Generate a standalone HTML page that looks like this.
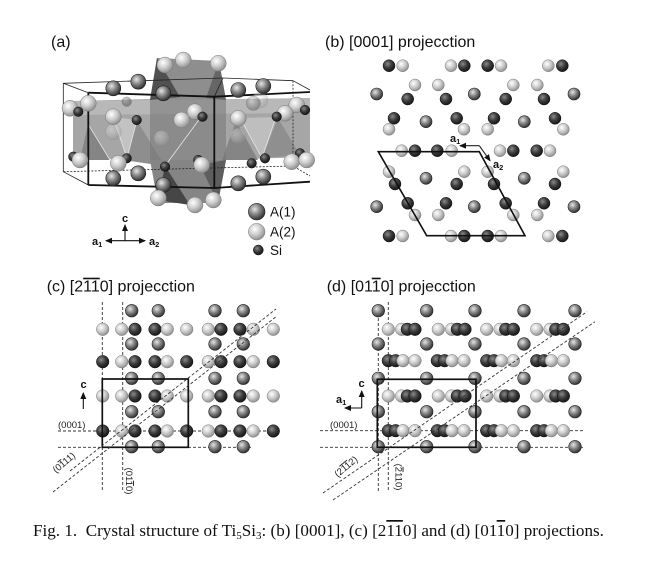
<!DOCTYPE html>
<html><head><meta charset="utf-8"><style>
html,body{margin:0;padding:0;background:#fff}
svg{display:block}
.A{fill:url(#gA);stroke:#222;stroke-width:.6}
.B{fill:url(#gB);stroke:#7a7a7a;stroke-width:.5}
.S{fill:url(#gS);stroke:#111;stroke-width:.5}
.t{font-family:"Liberation Sans",sans-serif;font-size:16px;fill:#111}
.s{font-family:"Liberation Sans",sans-serif;font-size:9.5px;fill:#222}
.bl{font-family:"Liberation Sans",sans-serif;font-size:11px;font-weight:bold;fill:#111}
.ol{text-decoration:overline}
.d{fill:none;stroke:#333;stroke-width:.9;stroke-dasharray:3 2}
</style></head><body>
<svg width="650" height="562" viewBox="0 0 650 562" xmlns="http://www.w3.org/2000/svg">
<defs>
<radialGradient id="gA" cx="0.38" cy="0.35" r="0.68"><stop offset="0" stop-color="#e6e6e6"/><stop offset="0.45" stop-color="#8a8a8a"/><stop offset="1" stop-color="#2c2c2c"/></radialGradient>
<radialGradient id="gB" cx="0.38" cy="0.35" r="0.68"><stop offset="0" stop-color="#ffffff"/><stop offset="0.5" stop-color="#cdcdcd"/><stop offset="1" stop-color="#8c8c8c"/></radialGradient>
<radialGradient id="gS" cx="0.38" cy="0.35" r="0.68"><stop offset="0" stop-color="#8a8a8a"/><stop offset="0.5" stop-color="#3c3c3c"/><stop offset="1" stop-color="#141414"/></radialGradient>
<marker id="ar" markerWidth="7" markerHeight="6" refX="6" refY="3" orient="auto" markerUnits="userSpaceOnUse"><path d="M0,0 L7,3 L0,6 z" fill="#111"/></marker>
</defs>
<rect width="650" height="562" fill="#fff"/>

<!-- ===== (a) ===== -->
<text class="t" x="51" y="47">(a)</text>
<polygon points="73,101 150,99 215,101 310,98 310,157 215,160 150,160 73,158" fill="#a6a6a6"/>
<polygon points="73,101 310,98 310,113 73,115" fill="#b8b8b8"/>
<polygon points="88,124 110,160 80,160" fill="#858585"/>
<polygon points="137,121 165,166 123,160" fill="#8e8e8e"/>
<polygon points="236,121 258,160 222,160" fill="#858585"/>
<polygon points="278,118 300,155 262,158" fill="#8f8f8f"/>
<polygon points="113,117 137,120 127,158" fill="#c2c2c2"/>
<polygon points="240,118 276,117 262,158" fill="#bebebe"/>
<polygon points="157,58 219,61 226,100 150,100" fill="#8e8e8e"/>
<polygon points="157,58 180,97 150,100" fill="#505050"/>
<polygon points="219,61 226,100 206,98" fill="#666"/>
<rect x="150" y="100" width="76" height="60" fill="#747474" opacity=".55"/>
<polygon points="150,160 226,160 218,203 158,203" fill="#858585"/>
<polygon points="165,166 190,205 158,200" fill="#464646"/>
<polygon points="200,165 226,160 218,203" fill="#5e5e5e"/>
<g stroke="#e6e6e6" stroke-width=".8" fill="none">
<polyline points="113,117 127,158 137,120"/>
<polyline points="165,166 201,117"/>
<polyline points="240,118 262,158 276,117"/>
<polyline points="88,124 110,160"/>
</g>
<g fill="none" stroke="#222">
<g stroke-width=".8">
<line x1="63.3" y1="83.3" x2="63.3" y2="171.7"/>
<line x1="63.3" y1="83.3" x2="88.3" y2="92.7"/>
<line x1="63.3" y1="171.7" x2="88.3" y2="185"/>
<line x1="63.3" y1="83.3" x2="223" y2="78"/>
<line x1="214.3" y1="96.7" x2="223" y2="78"/>
<line x1="293" y1="80.7" x2="310" y2="90"/>
<line x1="223" y1="78" x2="293" y2="80.7"/>
</g>
<polyline points="63.3,171.7 293,166 310,176" stroke-width=".8" stroke-dasharray="2 1.5"/>
<line x1="293" y1="80.7" x2="293" y2="166" stroke-width=".8" stroke-dasharray="2 1.5"/>
<g stroke-width="1.8" stroke="#111">
<polyline points="88.3,92.7 214.3,96.7 310,92"/>
<polyline points="88.3,185 214.3,188 310,181.7"/>
<line x1="88.3" y1="92.7" x2="88.3" y2="185"/>
<line x1="214.3" y1="96.7" x2="214.3" y2="188"/>
</g>
</g>
<g opacity=".35">
<circle class="B" cx="113.3" cy="131.7" r="8"/><circle class="B" cx="161.7" cy="138.3" r="8"/>
<circle class="B" cx="260" cy="100" r="8"/><circle class="B" cx="238" cy="136" r="8"/>
<circle class="S" cx="126.7" cy="101.7" r="4.8"/><circle class="A" cx="253.3" cy="103.3" r="7"/>
</g>
<g>
<circle class="B" cx="165" cy="65" r="8"/><circle class="B" cx="183.3" cy="60" r="8"/><circle class="B" cx="218.3" cy="63.3" r="8"/>
<circle class="A" cx="113.3" cy="88.3" r="7.5"/><circle class="A" cx="138.3" cy="81.7" r="7.5"/><circle class="A" cx="163.3" cy="93.3" r="7.5"/>
<circle class="A" cx="238.3" cy="90" r="7.5"/><circle class="A" cx="263.3" cy="86" r="7.5"/>
<circle class="B" cx="70" cy="108.3" r="8"/><circle class="B" cx="88.3" cy="103.3" r="8"/>
<circle class="S" cx="78.3" cy="111.7" r="4.8"/>
<circle class="B" cx="113.3" cy="116.7" r="8"/>
<circle class="S" cx="136.7" cy="120" r="4.8"/>
<circle class="B" cx="195" cy="111.7" r="8"/><circle class="B" cx="181.7" cy="120" r="8"/>
<circle class="S" cx="202.5" cy="116.7" r="4.8"/>
<circle class="B" cx="238.3" cy="118.3" r="8"/>
<circle class="B" cx="296.7" cy="105" r="8"/><circle class="B" cx="285" cy="113.3" r="8"/>
<circle class="S" cx="276.7" cy="116.7" r="4.8"/><circle class="S" cx="305" cy="110" r="4.8"/>
<circle class="S" cx="73.3" cy="156.7" r="4.8"/>
<circle class="B" cx="80" cy="160" r="8"/>
<circle class="S" cx="126.7" cy="158.3" r="4.8"/>
<circle class="B" cx="118.3" cy="163.3" r="8"/>
<circle class="S" cx="198.3" cy="160" r="4.8"/>
<circle class="B" cx="201.7" cy="165" r="8"/>
<circle class="S" cx="165" cy="166.7" r="4.8"/>
<circle class="S" cx="251.7" cy="163.3" r="4.8"/><circle class="S" cx="265" cy="158.3" r="4.8"/>
<circle class="S" cx="300" cy="153.3" r="4.8"/>
<circle class="B" cx="291.7" cy="161.7" r="8"/><circle class="B" cx="306.7" cy="160" r="8"/>
<circle class="A" cx="138.3" cy="173.3" r="7.5"/><circle class="A" cx="113.3" cy="178.3" r="7.5"/><circle class="A" cx="163.3" cy="185" r="7.5"/>
<circle class="A" cx="263.3" cy="176.7" r="7.5"/><circle class="A" cx="238.3" cy="183.3" r="7.5"/>
<circle class="B" cx="158.3" cy="198" r="8"/><circle class="B" cx="213.3" cy="200" r="8"/><circle class="B" cx="195" cy="205" r="8"/>
</g>
<circle class="A" cx="256.7" cy="211.7" r="8.3"/>
<circle class="B" cx="256.7" cy="231.7" r="8.3"/>
<circle class="S" cx="258.3" cy="250" r="5"/>
<g font-family="Liberation Sans, sans-serif" font-size="13.5" fill="#111">
<text x="270" y="216.5">A(1)</text><text x="270" y="236.5">A(2)</text><text x="270" y="255">Si</text>
</g>
<g stroke="#111" stroke-width="1.1">
<line x1="125" y1="240.7" x2="125" y2="225" marker-end="url(#ar)"/>
<line x1="125" y1="240.7" x2="106" y2="240.7" marker-end="url(#ar)"/>
<line x1="125" y1="240.7" x2="145" y2="240.7" marker-end="url(#ar)"/>
</g>
<text class="bl" x="122" y="222">c</text>
<text class="bl" x="92" y="245">a<tspan font-size="7.5" dy="2">1</tspan></text>
<text class="bl" x="149" y="245">a<tspan font-size="7.5" dy="2">2</tspan></text>

<!-- ===== (b) ===== -->
<text class="t" x="325" y="47">(b) [0001] projecction</text>
<g>
<circle class="S" cx="389" cy="65.7" r="6"/><circle class="B" cx="402.7" cy="65.7" r="6"/><circle class="B" cx="451" cy="65.7" r="6"/><circle class="S" cx="464.3" cy="65.7" r="6"/><circle class="S" cx="487.7" cy="65.7" r="6"/><circle class="B" cx="501" cy="65.7" r="6"/><circle class="B" cx="548.3" cy="65.7" r="6"/><circle class="S" cx="562.3" cy="65.7" r="6"/>
<circle class="B" cx="415" cy="85" r="6"/><circle class="B" cx="438.3" cy="85" r="6"/><circle class="B" cx="513.3" cy="85" r="6"/><circle class="B" cx="537.3" cy="85" r="6"/>
<circle class="A" cx="376.7" cy="94" r="6"/><circle class="A" cx="474.3" cy="94" r="6"/><circle class="A" cx="574" cy="94" r="6"/>
<circle class="S" cx="407.7" cy="99" r="6"/><circle class="S" cx="446" cy="99" r="6"/><circle class="S" cx="505.7" cy="99" r="6"/><circle class="S" cx="544" cy="99" r="6"/>
<circle class="S" cx="394" cy="118.3" r="6"/><circle class="S" cx="456.7" cy="118.3" r="6"/><circle class="S" cx="494" cy="118.3" r="6"/><circle class="S" cx="555" cy="118.3" r="6"/>
<circle class="A" cx="426" cy="121.7" r="6"/><circle class="A" cx="524.3" cy="121.7" r="6"/>
<circle class="B" cx="389" cy="129.3" r="6"/><circle class="B" cx="464" cy="129.3" r="6"/><circle class="B" cx="487.7" cy="129.3" r="6"/><circle class="B" cx="563.3" cy="129.3" r="6"/>
<circle class="B" cx="401.7" cy="150.7" r="6"/><circle class="S" cx="415" cy="150.7" r="6"/><circle class="S" cx="437.3" cy="150.7" r="6"/><circle class="B" cx="451.7" cy="150.7" r="6"/><circle class="B" cx="500" cy="150.7" r="6"/><circle class="S" cx="513.3" cy="150.7" r="6"/><circle class="S" cx="536.7" cy="150.7" r="6"/><circle class="B" cx="550" cy="150.7" r="6"/>
<circle class="B" cx="389" cy="171.7" r="6"/><circle class="B" cx="464.3" cy="171.7" r="6"/><circle class="B" cx="487.7" cy="171.7" r="6"/><circle class="B" cx="563.3" cy="171.7" r="6"/>
<circle class="A" cx="426" cy="178.3" r="6"/><circle class="A" cx="524.3" cy="178.3" r="6"/>
<circle class="S" cx="395" cy="184" r="6"/><circle class="S" cx="456.7" cy="184" r="6"/><circle class="S" cx="494" cy="184" r="6"/><circle class="S" cx="555" cy="184" r="6"/>
<circle class="S" cx="407.7" cy="203.3" r="6"/><circle class="S" cx="446" cy="203.3" r="6"/><circle class="S" cx="505.7" cy="203.3" r="6"/><circle class="S" cx="544" cy="203.3" r="6"/>
<circle class="A" cx="376.7" cy="206.7" r="6"/><circle class="A" cx="474.3" cy="206.7" r="6"/><circle class="A" cx="574" cy="206.7" r="6"/>
<circle class="B" cx="415" cy="215" r="6"/><circle class="B" cx="438.3" cy="215" r="6"/><circle class="B" cx="513.3" cy="215" r="6"/><circle class="B" cx="537.3" cy="215" r="6"/>
<circle class="S" cx="389" cy="236" r="6"/><circle class="B" cx="402.7" cy="236" r="6"/><circle class="B" cx="451" cy="236" r="6"/><circle class="S" cx="464.3" cy="236" r="6"/><circle class="S" cx="487.7" cy="236" r="6"/><circle class="B" cx="501" cy="236" r="6"/><circle class="B" cx="548.3" cy="236" r="6"/><circle class="S" cx="562.3" cy="236" r="6"/>
</g>
<polygon points="378.3,151.7 479.3,151.7 525,235.7 426.7,235.7" fill="none" stroke="#111" stroke-width="1.6"/>
<g stroke="#222" stroke-width="1.1">
<line x1="479.3" y1="145.7" x2="460" y2="145.7" marker-end="url(#ar)"/>
<line x1="479.3" y1="145.7" x2="490" y2="160.7" marker-end="url(#ar)"/>
</g>
<text class="bl" x="450" y="142">a<tspan font-size="7.5" dy="2">1</tspan></text>
<text class="bl" x="493" y="168">a<tspan font-size="7.5" dy="2">2</tspan></text>

<!-- ===== (c) ===== -->
<text class="t" x="46.7" y="291.7">(c) [2<tspan class="ol">1</tspan><tspan class="ol">1</tspan>0] projecction</text>
<g>
<line class="d" x1="102.3" y1="302" x2="102.3" y2="492"/>
<line class="d" x1="122.7" y1="302" x2="122.7" y2="492"/>
<line class="d" x1="58" y1="431" x2="278" y2="431"/>
<line class="d" x1="58" y1="447.3" x2="253" y2="447.3"/>
</g>
<g>
<circle class="A" cx="131.7" cy="310.7" r="6.3"/><circle class="A" cx="158.3" cy="310.7" r="6.3"/><circle class="A" cx="215" cy="310.7" r="6.3"/><circle class="A" cx="243.3" cy="310.7" r="6.3"/>
<circle class="A" cx="131.7" cy="344" r="6.3"/><circle class="A" cx="158.3" cy="344" r="6.3"/><circle class="A" cx="215" cy="344" r="6.3"/><circle class="A" cx="243.3" cy="344" r="6.3"/>
<circle class="A" cx="131.7" cy="378.3" r="6.3"/><circle class="A" cx="158.3" cy="378.3" r="6.3"/><circle class="A" cx="215" cy="378.3" r="6.3"/><circle class="A" cx="243.3" cy="378.3" r="6.3"/>
<circle class="A" cx="131.7" cy="411.7" r="6.3"/><circle class="A" cx="158.3" cy="411.7" r="6.3"/><circle class="A" cx="215" cy="411.7" r="6.3"/><circle class="A" cx="243.3" cy="411.7" r="6.3"/>
<circle class="A" cx="131.7" cy="446.7" r="6.3"/><circle class="A" cx="158.3" cy="446.7" r="6.3"/><circle class="A" cx="215" cy="446.7" r="6.3"/><circle class="A" cx="243.3" cy="446.7" r="6.3"/>

<circle class="B" cx="102.7" cy="329.3" r="6.3"/><circle class="B" cx="121.7" cy="329.3" r="6.3"/><circle class="S" cx="135" cy="329.3" r="6.3"/><circle class="S" cx="155" cy="329.3" r="6.3"/><circle class="B" cx="167.3" cy="329.3" r="6.3"/><circle class="B" cx="186.7" cy="329.3" r="6.3"/><circle class="B" cx="208.3" cy="329.3" r="6.3"/><circle class="S" cx="221" cy="329.3" r="6.3"/><circle class="S" cx="240" cy="329.3" r="6.3"/><circle class="B" cx="253.3" cy="329.3" r="6.3"/><circle class="B" cx="273.3" cy="329.3" r="6.3"/>
<circle class="S" cx="102.7" cy="361.7" r="6.3"/><circle class="B" cx="121.7" cy="361.7" r="6.3"/><circle class="S" cx="135" cy="361.7" r="6.3"/><circle class="S" cx="155" cy="361.7" r="6.3"/><circle class="B" cx="167.3" cy="361.7" r="6.3"/><circle class="S" cx="186.7" cy="361.7" r="6.3"/><circle class="B" cx="208.3" cy="361.7" r="6.3"/><circle class="S" cx="221" cy="361.7" r="6.3"/><circle class="S" cx="240" cy="361.7" r="6.3"/><circle class="B" cx="253.3" cy="361.7" r="6.3"/><circle class="S" cx="273.3" cy="361.7" r="6.3"/>
<circle class="B" cx="102.7" cy="396" r="6.3"/><circle class="B" cx="121.7" cy="396" r="6.3"/><circle class="S" cx="135" cy="396" r="6.3"/><circle class="S" cx="155" cy="396" r="6.3"/><circle class="B" cx="167.3" cy="396" r="6.3"/><circle class="B" cx="186.7" cy="396" r="6.3"/><circle class="B" cx="208.3" cy="396" r="6.3"/><circle class="S" cx="221" cy="396" r="6.3"/><circle class="S" cx="240" cy="396" r="6.3"/><circle class="B" cx="253.3" cy="396" r="6.3"/><circle class="B" cx="273.3" cy="396" r="6.3"/>
<circle class="S" cx="102.7" cy="431" r="6.3"/><circle class="B" cx="121.7" cy="431" r="6.3"/><circle class="S" cx="135" cy="431" r="6.3"/><circle class="S" cx="155" cy="431" r="6.3"/><circle class="B" cx="167.3" cy="431" r="6.3"/><circle class="S" cx="186.7" cy="431" r="6.3"/><circle class="B" cx="208.3" cy="431" r="6.3"/><circle class="S" cx="221" cy="431" r="6.3"/><circle class="S" cx="240" cy="431" r="6.3"/><circle class="B" cx="253.3" cy="431" r="6.3"/><circle class="S" cx="273.3" cy="431" r="6.3"/>
</g>
<rect x="102.3" y="379" width="86" height="68.3" fill="none" stroke="#111" stroke-width="1.7"/>
<line class="d" x1="53" y1="492" x2="277" y2="316"/>
<line class="d" x1="70" y1="471" x2="276" y2="309"/>
<text class="s" x="58" y="428">(0001)</text>
<line x1="83.3" y1="409" x2="83.3" y2="393" stroke="#111" stroke-width="1.1" marker-end="url(#ar)"/>
<text class="bl" x="80.5" y="388">c</text>
<text class="s" text-anchor="middle" transform="translate(66,465) rotate(-40)">(0<tspan class="ol">1</tspan>11)</text>
<text class="s" text-anchor="middle" transform="translate(126,481) rotate(90)">(01<tspan class="ol">1</tspan>0)</text>

<!-- ===== (d) ===== -->
<text class="t" x="326.7" y="291.7">(d) [01<tspan class="ol">1</tspan>0] projecction</text>
<g>
<line class="d" x1="378.3" y1="318" x2="378.3" y2="492"/>
<line class="d" x1="388.3" y1="302" x2="388.3" y2="490"/>
<line class="d" x1="320" y1="430.7" x2="585" y2="430.7"/>
<line class="d" x1="320" y1="447.3" x2="585" y2="447.3"/>
</g>
<g>
<circle class="A" cx="378.3" cy="310.7" r="6.3"/><circle class="A" cx="426.7" cy="310.7" r="6.3"/><circle class="A" cx="475" cy="310.7" r="6.3"/><circle class="A" cx="524" cy="310.7" r="6.3"/><circle class="A" cx="575" cy="310.7" r="6.3"/>
<circle class="A" cx="378.3" cy="344" r="6.3"/><circle class="A" cx="426.7" cy="344" r="6.3"/><circle class="A" cx="475" cy="344" r="6.3"/><circle class="A" cx="524" cy="344" r="6.3"/><circle class="A" cx="575" cy="344" r="6.3"/>
<circle class="A" cx="378.3" cy="378.3" r="6.3"/><circle class="A" cx="426.7" cy="378.3" r="6.3"/><circle class="A" cx="475" cy="378.3" r="6.3"/><circle class="A" cx="524" cy="378.3" r="6.3"/><circle class="A" cx="575" cy="378.3" r="6.3"/>
<circle class="A" cx="378.3" cy="411.7" r="6.3"/><circle class="A" cx="426.7" cy="411.7" r="6.3"/><circle class="A" cx="475" cy="411.7" r="6.3"/><circle class="A" cx="524" cy="411.7" r="6.3"/><circle class="A" cx="575" cy="411.7" r="6.3"/>
<circle class="A" cx="378.3" cy="446.7" r="6.3"/><circle class="A" cx="426.7" cy="446.7" r="6.3"/><circle class="A" cx="475" cy="446.7" r="6.3"/><circle class="A" cx="524" cy="446.7" r="6.3"/><circle class="A" cx="575" cy="446.7" r="6.3"/>

<circle class="B" cx="388.3" cy="329.3" r="6.3"/><circle class="B" cx="401.6" cy="329.3" r="6.3"/><circle class="S" cx="407.3" cy="329.3" r="6.3"/><circle class="S" cx="415" cy="329.3" r="6.3"/>
<circle class="B" cx="438.3" cy="329.3" r="6.3"/><circle class="B" cx="451.6" cy="329.3" r="6.3"/><circle class="S" cx="457.3" cy="329.3" r="6.3"/><circle class="S" cx="465" cy="329.3" r="6.3"/>
<circle class="B" cx="486.7" cy="329.3" r="6.3"/><circle class="B" cx="500" cy="329.3" r="6.3"/><circle class="S" cx="505.7" cy="329.3" r="6.3"/><circle class="S" cx="513.4" cy="329.3" r="6.3"/>
<circle class="B" cx="536.7" cy="329.3" r="6.3"/><circle class="B" cx="550" cy="329.3" r="6.3"/><circle class="S" cx="555.7" cy="329.3" r="6.3"/><circle class="S" cx="563.4" cy="329.3" r="6.3"/>
<circle class="B" cx="388.3" cy="396" r="6.3"/><circle class="B" cx="401.6" cy="396" r="6.3"/><circle class="S" cx="407.3" cy="396" r="6.3"/><circle class="S" cx="415" cy="396" r="6.3"/>
<circle class="B" cx="438.3" cy="396" r="6.3"/><circle class="B" cx="451.6" cy="396" r="6.3"/><circle class="S" cx="457.3" cy="396" r="6.3"/><circle class="S" cx="465" cy="396" r="6.3"/>
<circle class="B" cx="486.7" cy="396" r="6.3"/><circle class="B" cx="500" cy="396" r="6.3"/><circle class="S" cx="505.7" cy="396" r="6.3"/><circle class="S" cx="513.4" cy="396" r="6.3"/>
<circle class="B" cx="536.7" cy="396" r="6.3"/><circle class="B" cx="550" cy="396" r="6.3"/><circle class="S" cx="555.7" cy="396" r="6.3"/><circle class="S" cx="563.4" cy="396" r="6.3"/>
<circle class="S" cx="388.3" cy="360.7" r="6.3"/><circle class="S" cx="395.6" cy="360.7" r="6.3"/><circle class="B" cx="403" cy="360.7" r="6.3"/><circle class="B" cx="415" cy="360.7" r="6.3"/>
<circle class="S" cx="437.3" cy="360.7" r="6.3"/><circle class="S" cx="444.6" cy="360.7" r="6.3"/><circle class="B" cx="452" cy="360.7" r="6.3"/><circle class="B" cx="464" cy="360.7" r="6.3"/>
<circle class="S" cx="486.7" cy="360.7" r="6.3"/><circle class="S" cx="494" cy="360.7" r="6.3"/><circle class="B" cx="501.4" cy="360.7" r="6.3"/><circle class="B" cx="513.4" cy="360.7" r="6.3"/>
<circle class="S" cx="536.7" cy="360.7" r="6.3"/><circle class="S" cx="544" cy="360.7" r="6.3"/><circle class="B" cx="551.4" cy="360.7" r="6.3"/><circle class="B" cx="563.4" cy="360.7" r="6.3"/>
<circle class="S" cx="388.3" cy="430.7" r="6.3"/><circle class="S" cx="395.6" cy="430.7" r="6.3"/><circle class="B" cx="403" cy="430.7" r="6.3"/><circle class="B" cx="415" cy="430.7" r="6.3"/>
<circle class="S" cx="437.3" cy="430.7" r="6.3"/><circle class="S" cx="444.6" cy="430.7" r="6.3"/><circle class="B" cx="452" cy="430.7" r="6.3"/><circle class="B" cx="464" cy="430.7" r="6.3"/>
<circle class="S" cx="486.7" cy="430.7" r="6.3"/><circle class="S" cx="494" cy="430.7" r="6.3"/><circle class="B" cx="501.4" cy="430.7" r="6.3"/><circle class="B" cx="513.4" cy="430.7" r="6.3"/>
<circle class="S" cx="536.7" cy="430.7" r="6.3"/><circle class="S" cx="544" cy="430.7" r="6.3"/><circle class="B" cx="551.4" cy="430.7" r="6.3"/><circle class="B" cx="563.4" cy="430.7" r="6.3"/>
</g>
<rect x="377.3" y="379.3" width="98.7" height="68" fill="none" stroke="#111" stroke-width="1.7"/>
<line class="d" x1="323" y1="493" x2="587" y2="311.7"/>
<line class="d" x1="333" y1="500" x2="595" y2="321.7"/>
<text class="s" x="330" y="428">(0001)</text>
<g stroke="#111" stroke-width="1.1">
<line x1="361.7" y1="408" x2="361.7" y2="391" marker-end="url(#ar)"/>
<line x1="361.7" y1="408" x2="345" y2="408" marker-end="url(#ar)"/>
</g>
<text class="bl" x="358.5" y="387">c</text>
<text class="bl" x="336" y="403">a<tspan font-size="7.5" dy="2">1</tspan></text>
<text class="s" text-anchor="middle" transform="translate(348,469) rotate(-40)">(2<tspan class="ol">1</tspan><tspan class="ol">1</tspan>2)</text>
<text class="s" text-anchor="middle" transform="translate(395.5,477) rotate(90)">(<tspan class="ol">2</tspan>110)</text>

<!-- caption -->
<text x="33" y="536" font-family="Liberation Serif, serif" font-size="17.1" fill="#111" xml:space="preserve">Fig. 1.  Crystal structure of Ti<tspan font-size="11" dy="3">5</tspan><tspan dy="-3">Si</tspan><tspan font-size="11" dy="3">3</tspan><tspan dy="-3">: (b) [0001], (c) [2</tspan><tspan class="ol">11</tspan>0] and (d) [01<tspan class="ol">1</tspan>0] projections.</text>
</svg>
</body></html>
